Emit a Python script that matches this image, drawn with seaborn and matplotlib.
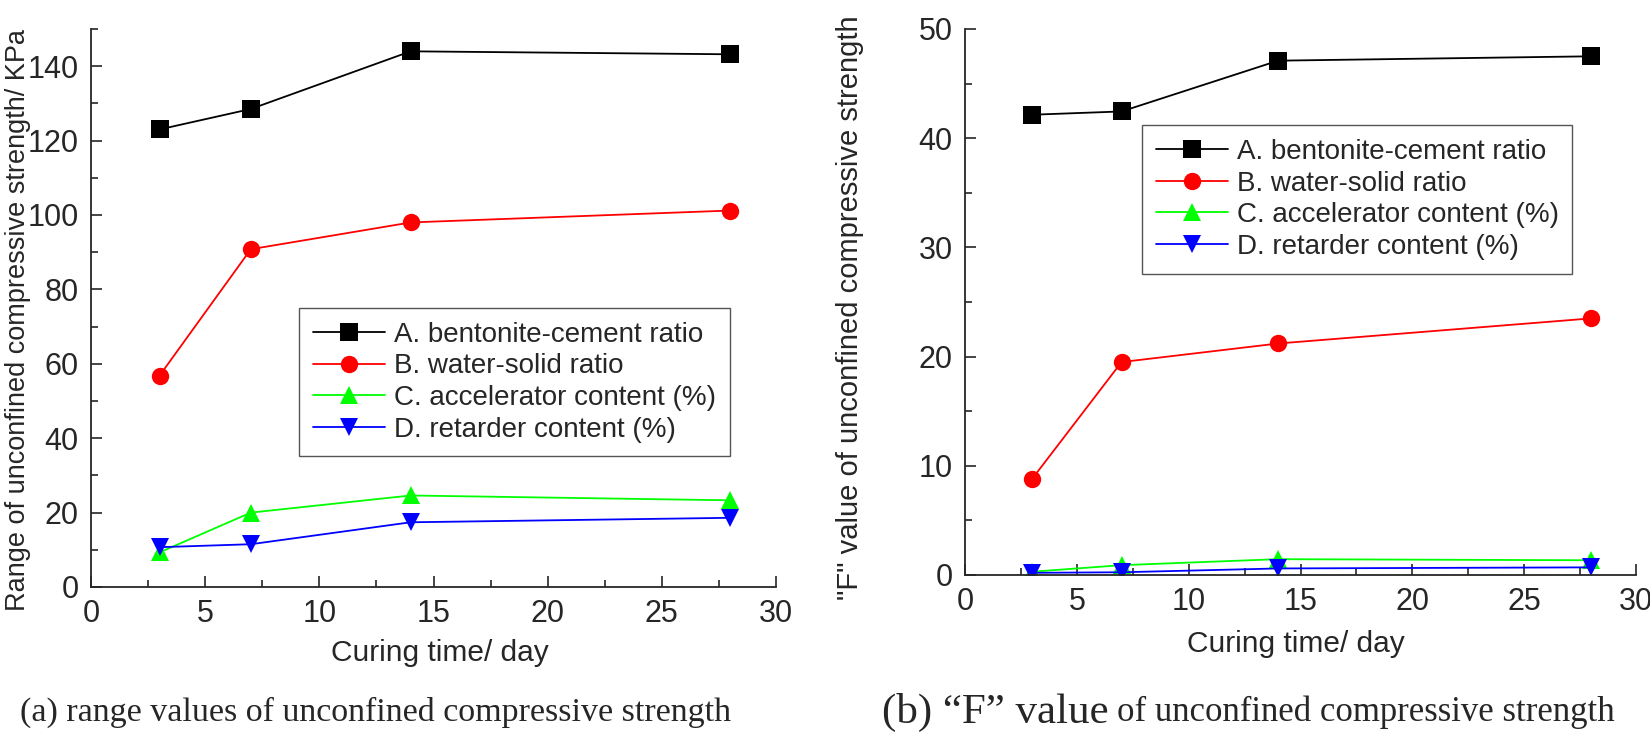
import numpy as np
import pandas as pd
import seaborn as sns
import matplotlib.pyplot as plt
from matplotlib.ticker import MultipleLocator

# data
days = [3, 7, 14, 28]
labels = ["A. bentonite-cement ratio", "B. water-solid ratio",
          "C. accelerator content (%)", "D. retarder content (%)"]
range_A = [123.0, 128.5, 144.0, 143.2]
range_B = [56.8, 90.8, 98.0, 101.2]
range_C = [9.3, 20.0, 24.6, 23.3]
range_D = [10.7, 11.5, 17.4, 18.6]
f_A = [42.15, 42.45, 47.1, 47.5]
f_B = [8.8, 19.5, 21.2, 23.5]
f_C = [0.3, 0.9, 1.45, 1.35]
f_D = [0.2, 0.25, 0.6, 0.7]

colors = ["#000000", "#FF0000", "#00FF00", "#0000FF"]
markers = ["s", "o", "^", "v"]

sns.set_style("ticks")
plt.rcParams['font.family'] = ['Liberation Sans', 'DejaVu Sans']

fig = plt.figure(figsize=(16.5, 7.33), dpi=100)
ax1 = fig.add_axes([91/1650, 1-587/733, 685/1650, 558/733])
ax2 = fig.add_axes([965/1650, 1-575/733, 671/1650, 546/733])


def draw(ax, series, ymax, ystep, leg_anchor):
    for lab, vals, c, m in zip(labels, series, colors, markers):
        df = pd.DataFrame({"day": days, "val": vals})
        sns.lineplot(data=df, x="day", y="val", ax=ax, color=c, marker=m,
                     markersize=13.5 if m in "^v" else 12.5,
                     markeredgewidth=0, linewidth=1.3, label=lab)
    ax.set_xlim(0, 30)
    ax.set_ylim(0, ymax)
    ax.xaxis.set_major_locator(MultipleLocator(5))
    ax.xaxis.set_minor_locator(MultipleLocator(2.5))
    ax.yaxis.set_major_locator(MultipleLocator(ystep))
    ax.yaxis.set_minor_locator(MultipleLocator(ystep / 2))
    ax.tick_params(which='major', direction='in', length=8, width=1.2,
                   labelsize=22, pad=9)
    ax.tick_params(which='minor', direction='in', length=5, width=1.2)
    sns.despine(ax=ax)
    for s in ["left", "bottom"]:
        ax.spines[s].set_linewidth(1.3)
    ax.set_xlabel("Curing time/ day", fontsize=21.5)
    leg = ax.legend(loc="upper left", bbox_to_anchor=leg_anchor,
                    borderaxespad=0, fontsize=20, frameon=True,
                    fancybox=False, edgecolor="#555555", framealpha=1,
                    handlelength=2.6, labelspacing=0.2, handletextpad=0.3,
                    borderpad=0.5)
    leg.get_frame().set_linewidth(1.0)


draw(ax1, [range_A, range_B, range_C, range_D], 150, 20, (0.304, 0.5))
draw(ax2, [f_A, f_B, f_C, f_D], 50, 10, (0.264, 0.824))

ax1.set_ylabel("Range of unconfined compressive strength/ KPa", fontsize=19.5)
ax2.set_ylabel('"F" value of unconfined compressive strength', fontsize=21)
ax1.yaxis.set_label_coords(-0.088, 0.478)
ax2.yaxis.set_label_coords(-0.15, 0.49)
ax1.xaxis.set_label_coords(0.51, -0.093)
ax2.xaxis.set_label_coords(0.493, -0.10)

# captions below the panels
serif = ['Liberation Serif', 'DejaVu Serif']
fig.text(376/1650, 1-712/733, "(a) range values of unconfined compressive strength",
         ha="center", va="center", fontsize=24.5, family=serif)

fig.canvas.draw()
r = fig.canvas.get_renderer()
t1 = fig.text(882/1650, 1-712/733, "(b) \u201cF\u201d value", ha="left", va="center",
              fontsize=31, family=serif)
w = t1.get_window_extent(r).width
fig.text((882 + w + 8)/1650, 1-712/733, "of unconfined compressive strength",
         ha="left", va="center", fontsize=25, family=serif)

fig.savefig("out.png", dpi=100)
